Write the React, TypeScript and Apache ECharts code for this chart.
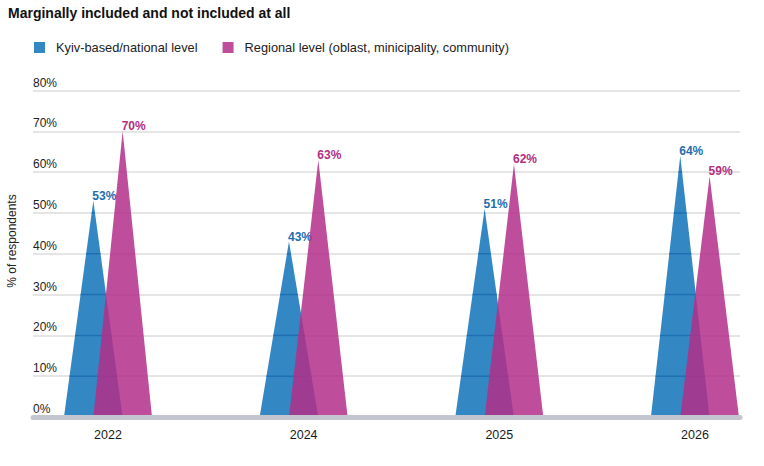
import React, { useEffect, useRef } from "react";
import * as echarts from "echarts";

const years = ["2022", "2024", "2025", "2026"];
const kyivNational = [53, 43, 51, 64];
const regional = [70, 63, 62, 59];
const yTicks = [0, 10, 20, 30, 40, 50, 60, 70, 80];
const seriesNames = [
  "Kyiv-based/national level",
  "Regional level (oblast, minicipality, community)",
];

const FONT = "'Liberation Sans', Arial, sans-serif";
const BLUE = "#3388c4";
const BLUE_LABEL = "#1f6db0";
const PINK = "#b32f8a";
const PINK_LABEL = "#b0307f";

// Triangle spike: shares of one year slot used for width and side offset
const HALF_WIDTH = 0.15;
const OFFSET = 0.075;

function makeRenderItem(sign: number, labelColor: string, opacity: number, gridMarks: boolean) {
  return (params: any, api: any) => {
    const idx = api.value(0);
    const v = api.value(1);
    const slot = api.size([1, 0])[0];
    const top = api.coord([idx, v]);
    const base = api.coord([idx, 0]);
    const cx = top[0] + sign * slot * OFFSET;
    const half = slot * HALF_WIDTH;
    const color = api.visual("color");
    const children: any[] = [
      {
        type: "polygon",
        shape: {
          points: [
            [cx - half, base[1]],
            [cx, top[1]],
            [cx + half, base[1]],
          ],
        },
        style: { fill: color, opacity },
      },
    ];
    if (gridMarks) {
      // gridlines read as darker strokes across the blue spikes
      yTicks.forEach((t) => {
        if (t <= 0 || t >= v) return;
        const y = api.coord([idx, t])[1];
        const hw = half * (1 - t / v);
        children.push({
          type: "line",
          shape: { x1: cx - hw, y1: y, x2: cx + hw, y2: y },
          style: { stroke: "#1f6fb2", lineWidth: 1.5 },
        });
      });
    }
    children.push({
      type: "text",
      x: cx - 1,
      y: top[1] + 1,
      style: {
        text: v + "%",
        fill: labelColor,
        font: `bold 12px ${FONT}`,
        align: "left",
        verticalAlign: "bottom",
      },
    });
    return { type: "group", children };
  };
}

export default function App() {
  const ref = useRef<HTMLDivElement>(null);

  useEffect(() => {
    if (!ref.current) return;
    const chart = echarts.init(ref.current, undefined, { renderer: "svg" });
    const gridTop = 90.5;
    const gridBottom = 49;
    chart.setOption({
      animation: false,
      backgroundColor: "#ffffff",
      textStyle: { fontFamily: FONT },
      title: {
        text: "Marginally included and not included at all",
        left: 8,
        top: 5,
        padding: 0,
        textStyle: { fontSize: 14, fontWeight: "bold", color: "#111111", fontFamily: FONT, lineHeight: 16 },
      },
      legend: {
        left: 34,
        top: 41,
        padding: 0,
        icon: "rect",
        itemWidth: 11,
        itemHeight: 11,
        itemGap: 25,
        data: seriesNames,
        textStyle: { fontSize: 12.8, color: "#222222", fontFamily: FONT, padding: [0, 0, 0, 6] },
      },
      graphic: [
        {
          type: "text",
          x: 12,
          y: 241,
          rotation: Math.PI / 2,
          style: {
            text: "% of respondents",
            font: `12px ${FONT}`,
            fill: "#222222",
            align: "center",
            verticalAlign: "middle",
          },
        },
      ],
      grid: [
        { left: 33, right: 24, top: gridTop, bottom: gridBottom },
        { left: 108, right: 0, top: gridTop, bottom: gridBottom },
      ],
      xAxis: [
        {
          gridIndex: 0,
          type: "category",
          data: years,
          z: 5,
          axisLine: { show: true, lineStyle: { color: "#c3c6ce", width: 5 } },
          axisTick: { show: false },
          axisLabel: { show: false },
          splitLine: { show: false },
        },
        {
          // one unit per survey year, years spaced evenly
          gridIndex: 1,
          type: "value",
          min: 0,
          max: 3.353,
          interval: 1,
          axisLine: { show: false },
          axisTick: { show: false },
          splitLine: { show: false },
          axisLabel: {
            color: "#1a1a1a",
            fontSize: 12.5,
            margin: 11,
            fontFamily: FONT,
            showMaxLabel: false,
            formatter: (v: number) => years[Math.round(v)] ?? "",
          },
        },
      ],
      yAxis: [
        {
          gridIndex: 0,
          type: "value",
          min: 0,
          max: 80,
          interval: 10,
          axisLine: { show: false },
          axisTick: { show: false },
          splitLine: { lineStyle: { color: "#dcdcdc", width: 1.5 } },
          axisLabel: {
            inside: true,
            formatter: "{value}%",
            color: "#222222",
            fontSize: 12,
            fontFamily: FONT,
            verticalAlign: "bottom",
            margin: 0,
            padding: [0, 0, 2, 0],
          },
        },
        { gridIndex: 1, type: "value", min: 0, max: 80, show: false },
      ],
      series: [
        {
          name: seriesNames[0],
          type: "custom",
          xAxisIndex: 1,
          yAxisIndex: 1,
          clip: false,
          itemStyle: { color: BLUE },
          encode: { x: 0, y: 1 },
          data: kyivNational.map((v, i) => [i, v]),
          renderItem: makeRenderItem(-1, BLUE_LABEL, 1, true),
          z: 2,
        },
        {
          name: seriesNames[1],
          type: "custom",
          xAxisIndex: 1,
          yAxisIndex: 1,
          clip: false,
          itemStyle: { color: PINK, opacity: 0.85 },
          encode: { x: 0, y: 1 },
          data: regional.map((v, i) => [i, v]),
          renderItem: makeRenderItem(1, PINK_LABEL, 0.85, false),
          z: 3,
        },
      ],
    });
    return () => chart.dispose();
  }, []);

  return (
    <div
      ref={ref}
      style={{ position: "fixed", left: 0, top: 0, width: 764, height: 466 }}
    />
  );
}
